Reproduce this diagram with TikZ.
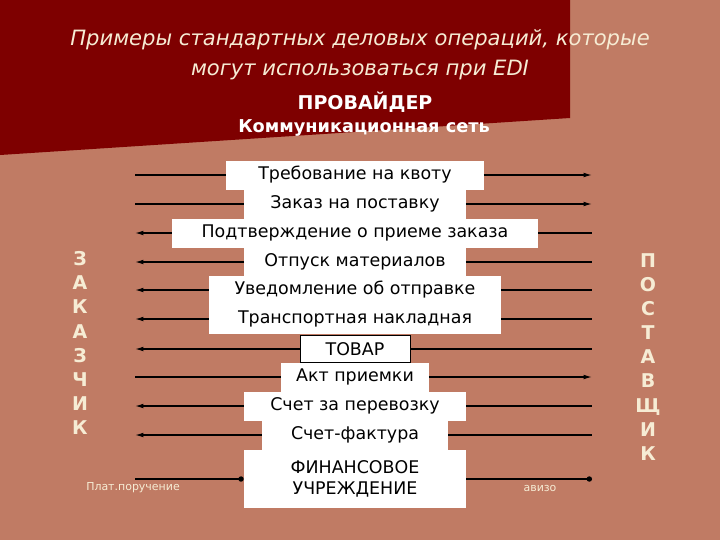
\documentclass[tikz,border=0pt]{standalone}
\usepackage{fontspec}
\setmainfont{DejaVu Sans}
\usetikzlibrary{arrows.meta}

\definecolor{salmon}{RGB}{192,123,100}
\definecolor{darkred}{RGB}{126,0,0}
\definecolor{cream}{RGB}{246,236,212}

\begin{document}
\begin{tikzpicture}[
	x=0.025cm, y=-0.025cm,
	msg/.style = {
		fill=white, inner sep=0pt, text=black,
		minimum height=7.25mm,
		font=\fontsize{12.4}{15}\selectfont},
	side/.style = {
		text=cream, align=center,
		font=\fontsize{13.5}{17.1}\selectfont\bfseries},
	link/.style = {draw=black, line width=0.9pt},
	sendarrow/.style = {link, -{Latex[length=6pt,width=3.4pt]}},
	payarrow/.style = {link, -{Circle[length=3.8pt]}},
	note/.style = {text=cream, font=\fontsize{7.8}{9}\selectfont}]

	% background and title band
	\fill[salmon] (0,0) rectangle (720,540);
	\fill[darkred] (0,0) -- (570,0) -- (570,118) -- (0,155) -- cycle;
	\useasboundingbox (0,0) rectangle (720,540);

	\node[text=cream, align=center, font=\fontsize{15}{21.5}\selectfont\itshape]
		(title) at (360,55) {Примеры стандартных деловых операций, которые\\могут использоваться при EDI};
	\node[text=white, font=\fontsize{13.5}{16}\selectfont\bfseries] (provider) at (365,102) {ПРОВАЙДЕР};
	\node[text=white, font=\fontsize{12.6}{15}\selectfont\bfseries] (network) at (364,128) {Коммуникационная сеть};

	% messages
	\node[msg, minimum width=64.25mm] (kvota) at (355,175) {Требование на квоту};
	\node[msg, minimum width=55.25mm] (zakaz) at (355,204) {Заказ на поставку};
	\node[msg, minimum width=91.5mm] (podtv) at (355,233) {Подтверждение о приеме заказа};
	\node[msg, minimum width=55.25mm] (otpusk) at (355,262) {Отпуск материалов};
	\node[msg, minimum width=73mm] (uvedoml) at (355,290) {Уведомление об отправке};
	\node[msg, minimum width=73mm] (nakl) at (355,319) {Транспортная накладная};
	\node[msg, draw=black, line width=0.6pt, minimum width=27.5mm, minimum height=6.75mm] (tovar) at (355,349) {ТОВАР};
	\node[msg, minimum width=36.75mm] (akt) at (355,377) {Акт приемки};
	\node[msg, minimum width=55.5mm] (perevoz) at (355,406) {Счет за перевозку};
	\node[msg, minimum width=46.5mm, minimum height=7.5mm] (faktura) at (355,435) {Счет-фактура};
	\node[msg, align=center, minimum width=55.5mm, minimum height=14.5mm] (finuchr) at (355,479) {ФИНАНСОВОЕ\\УЧРЕЖДЕНИЕ};

	% parties
	\node[side] (zakazchik) at (80,343) {З\\А\\К\\А\\З\\Ч\\И\\К};
	\node[side] (postavshik) at (648,357) {П\\О\\С\\Т\\А\\В\\Щ\\И\\К};

	% line ends
	\foreach \n/\y in {kvota/175, zakaz/204, podtv/233, otpusk/262, uvedoml/290, nakl/319,
		tovar/349, akt/377, perevoz/406, faktura/435, finuchr/479} {
		\coordinate (\n-l) at (135,\y);
		\coordinate (\n-r) at (592,\y);
	}

	% to the supplier
	\foreach \n in {kvota, zakaz, akt} {
		\draw[link] (\n-l) -- (\n.west);
		\draw[sendarrow] (\n.east) -- (\n-r);
	}
	% to the customer
	\foreach \n in {podtv, otpusk, uvedoml, nakl, tovar, perevoz, faktura} {
		\draw[sendarrow] (\n.west) -- (\n-l);
		\draw[link] (\n.east) -- (\n-r);
	}
	% payment
	\draw[payarrow] (finuchr-l) -- (finuchr.west);
	\draw[payarrow] (finuchr.east) -- (finuchr-r);
	\node[note] (platpor) at (133,488) {Плат.поручение};
	\node[note] (avizo) at (540,488) {авизо};
\end{tikzpicture}
\end{document}
